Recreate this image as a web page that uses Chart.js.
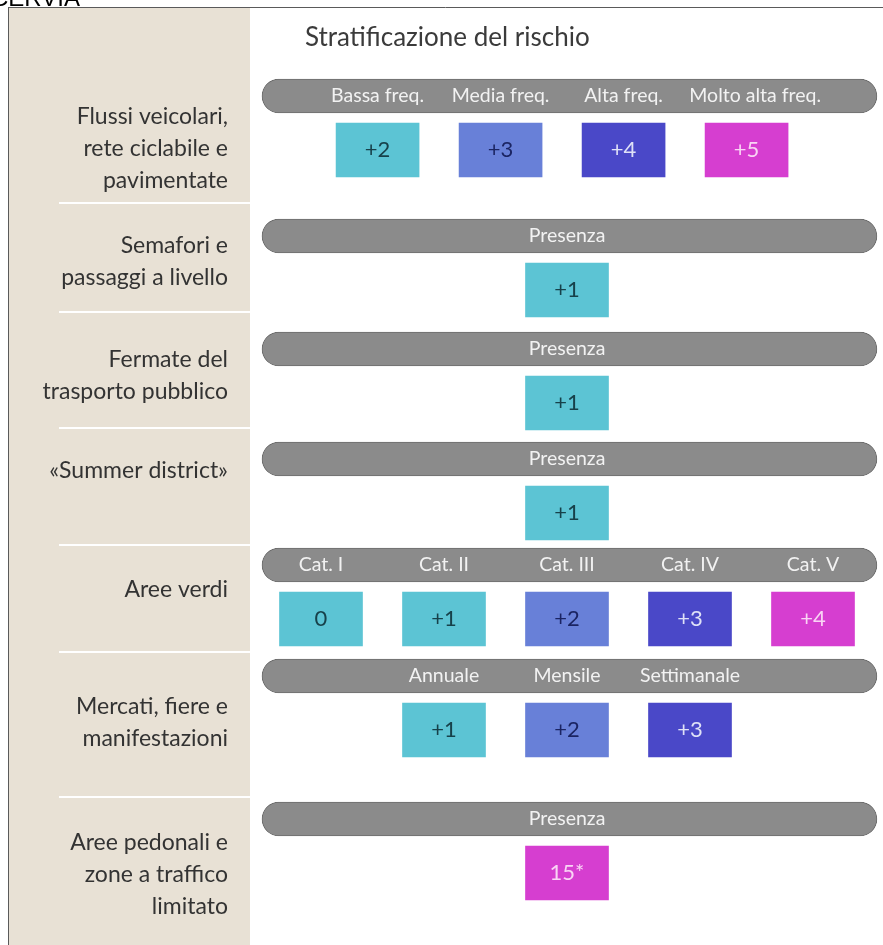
<!DOCTYPE html>
<html>
<head>
<meta charset="utf-8">
<script src="https://cdn.jsdelivr.net/npm/chart.js@4"></script>
<style>
html, body { margin: 0; padding: 0; background: #fff; overflow: hidden; }
</style>
</head>
<body>
<canvas id="mycanvas" width="883" height="945"></canvas>
<script>
// --- data ---
var rowLabels = [
    ['Flussi veicolari,', 'rete ciclabile e', 'pavimentate'],
    ['Semafori e', 'passaggi a livello'],
    ['Fermate del', 'trasporto pubblico'],
    ['«Summer district»'],
    ['Aree verdi'],
    ['Mercati, fiere e', 'manifestazioni'],
    ['Aree pedonali e', 'zone a traffico', 'limitato']
];
var headers = [
    ['Bassa freq.', 'Media freq.', 'Alta freq.', 'Molto alta freq.'],
    ['Presenza'],
    ['Presenza'],
    ['Presenza'],
    ['Cat. I', 'Cat. II', 'Cat. III', 'Cat. IV', 'Cat. V'],
    ['Annuale', 'Mensile', 'Settimanale'],
    ['Presenza']
];
var scores = [
    ['+2', '+3', '+4', '+5'],
    ['+1'],
    ['+1'],
    ['+1'],
    ['0', '+1', '+2', '+3', '+4'],
    ['+1', '+2', '+3'],
    ['15*']
];
// colour level of every score box (1 = low ... 4 = high)
var levels = [
    [1, 2, 3, 4],
    [1],
    [1],
    [1],
    [1, 1, 2, 3, 4],
    [1, 2, 3],
    [4]
];

// --- layout ---
var COL0 = 321, COLW = 123;            // pixel of column 0, column step
var rowTop = [79, 219, 332, 442, 548, 659, 802];
var labelMid = [149, 262, 376, 471, 590, 723, 875];
var sepY = [203, 312, 428, 545, 652, 797];
var PILL_H = 34, BOX_OFF = 44, BOX_H = 54;

var levelFill = ['', '#5cc4d4', '#6880d8', '#4a48c8', '#d63ed0'];
var levelText = ['', '#17414a', '#1b2462', '#dfe1f7', '#f9d4f4'];

function colPos(row, i) {
    var p = i + (5 - scores[row].length) / 2;
    // first row sits a little left of the half-column grid
    return row === 0 ? p - 0.04 : p;
}

var pillData = [];
for (var r = 0; r < rowTop.length; r++) {
    pillData.push({x: 2.02, y: [rowTop[r], rowTop[r] + PILL_H]});
}
var boxData = [];
for (var r = 0; r < scores.length; r++) {
    for (var i = 0; i < scores[r].length; i++) {
        boxData.push({
            x: colPos(r, i),
            y: [rowTop[r] + BOX_OFF, rowTop[r] + BOX_OFF + BOX_H],
            label: scores[r][i],
            level: levels[r][i]
        });
    }
}

var panelPlugin = {
    id: 'panel',
    beforeDraw: function(chart) {
        var ctx = chart.ctx, ys = chart.scales.y;
        ctx.save();
        ctx.fillStyle = '#ffffff';
        ctx.fillRect(0, 0, chart.width, chart.height);
        ctx.fillStyle = '#e8e1d5';
        ctx.fillRect(8, 8, 242, chart.height);
        // frame
        ctx.strokeStyle = '#5a5a5a';
        ctx.lineWidth = 1;
        ctx.beginPath();
        ctx.moveTo(8, 7.5); ctx.lineTo(chart.width, 7.5);
        ctx.moveTo(8.5, 7); ctx.lineTo(8.5, chart.height);
        ctx.stroke();
        ctx.fillStyle = '#000';
        ctx.font = '24px "Liberation Sans"';
        ctx.textBaseline = 'alphabetic';
        ctx.fillText('CERVIA', -9, 6);
        // separators
        ctx.strokeStyle = '#ffffff';
        ctx.lineWidth = 2;
        sepY.forEach(function(v) {
            var y = ys.getPixelForValue(v);
            ctx.beginPath();
            ctx.moveTo(59, y); ctx.lineTo(250, y);
            ctx.stroke();
        });
        // row labels
        ctx.fillStyle = '#333333';
        ctx.font = '23px Lato';
        ctx.textAlign = 'right';
        ctx.textBaseline = 'middle';
        rowLabels.forEach(function(lines, r) {
            var mid = ys.getPixelForValue(labelMid[r]);
            lines.forEach(function(t, j) {
                ctx.fillText(t, 228, mid + (j - (lines.length - 1) / 2) * 32);
            });
        });
        // title
        ctx.textAlign = 'left';
        ctx.textBaseline = 'alphabetic';
        ctx.font = '26px Lato';
        ctx.fillStyle = '#3b3b3b';
        ctx.fillText('Stratificazione del rischio', 305, 46);
        ctx.restore();
    },
    afterDatasetsDraw: function(chart) {
        var ctx = chart.ctx, xs = chart.scales.x, ys = chart.scales.y;
        ctx.save();
        ctx.textAlign = 'center';
        ctx.textBaseline = 'middle';
        ctx.font = '19.5px Lato';
        ctx.fillStyle = '#f2f2f2';
        headers.forEach(function(hs, r) {
            var y = ys.getPixelForValue(rowTop[r] + PILL_H / 2);
            hs.forEach(function(h, i) {
                var x = colPos(r, i);
                if (r === 0 && i === 3) x += 0.07;
                ctx.fillText(h, xs.getPixelForValue(x), y);
            });
        });
        ctx.font = '22px Lato';
        boxData.forEach(function(d) {
            ctx.fillStyle = levelText[d.level];
            ctx.fillText(d.label, xs.getPixelForValue(d.x), ys.getPixelForValue((d.y[0] + d.y[1]) / 2));
        });
        ctx.restore();
    }
};

var ctx = document.getElementById('mycanvas');
var chart = new Chart(ctx, {
    type: 'bar',
    data: {
        datasets: [
            {
                label: 'header',
                data: pillData,
                stack: 's',
                barThickness: 615,
                backgroundColor: '#8b8b8b',
                borderColor: '#6c6c6c',
                borderWidth: 1,
                borderRadius: 17,
                borderSkipped: false
            },
            {
                label: 'score',
                data: boxData,
                stack: 's',
                barThickness: 83,
                backgroundColor: function(c) { return c.raw ? levelFill[c.raw.level] : '#ccc'; },
                borderWidth: 0,
                borderSkipped: false
            }
        ]
    },
    options: {
        responsive: false,
        animation: false,
        layout: { padding: 0 },
        plugins: {
            legend: { display: false },
            tooltip: { enabled: false }
        },
        scales: {
            x: { type: 'linear', display: false, offset: false, min: -COL0 / COLW, max: (883 - COL0) / COLW },
            y: { type: 'linear', display: false, reverse: true, min: 0, max: 945, stacked: false }
        }
    },
    plugins: [panelPlugin]
});
</script>
</body>
</html>
